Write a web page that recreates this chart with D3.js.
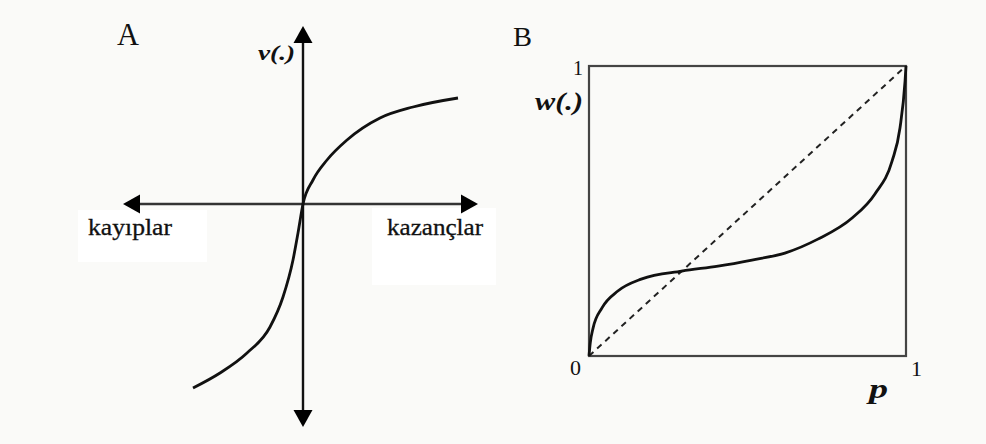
<!DOCTYPE html>
<html>
<head>
<meta charset="utf-8">
<script src="https://cdn.jsdelivr.net/npm/d3@7"></script>
<style>
  html, body { margin: 0; padding: 0; background: #fafaf8; }
  svg { display: block; }
  text { font-family: "Liberation Serif", "DejaVu Serif", serif; fill: #111; }
</style>
</head>
<body>
<svg id="chart" width="986" height="444"></svg>
<script>
// Panel A: value function (x = outcome, y = value), arbitrary units
const valueX = [-110, -83, -56, -33, -20, -10, -5, 0, 10, 24, 44, 77, 110, 155];
const valueY = [-184, -169, -149, -123, -93, -56, -29, 0, 24, 44, 64, 86, 97, 106];
const axisXExtent = [-180, 175];
const axisYExtent = [-223, 178];
const axisLabelsA = ["kayıplar", "kazançlar"];

// Panel B: probability weighting function
const probP = [0, 0.004, 0.013, 0.041, 0.091, 0.167, 0.293, 0.407, 0.514, 0.618, 0.722, 0.830, 0.902, 0.956, 0.981, 0.997, 1];
const probW = [0, 0.045, 0.097, 0.166, 0.224, 0.266, 0.293, 0.310, 0.331, 0.355, 0.403, 0.476, 0.559, 0.672, 0.786, 0.948, 1];
const diagonal = [0, 1];
const tickLabelsB = ["0", "1"];

const svg = d3.select('#chart');

// ---------- Panel A ----------
const xA = d3.scaleLinear().domain(axisXExtent).range([123, 478]);
const yA = d3.scaleLinear().domain(axisYExtent).range([427, 26]);

const panelA = svg.append('g').attr('class', 'panelA');

// white label boxes behind axis captions
panelA.append('rect').attr('x', 78).attr('y', 210).attr('width', 129).attr('height', 52).attr('fill', '#fff');
panelA.append('rect').attr('x', 372).attr('y', 208).attr('width', 124).attr('height', 77).attr('fill', '#fff');

const headLen = 17, headHalf = 9.5;

// horizontal axis
panelA.append('line')
  .attr('x1', xA(axisXExtent[0]) + headLen).attr('x2', xA(axisXExtent[1]) - headLen)
  .attr('y1', yA(0)).attr('y2', yA(0))
  .attr('stroke', '#333').attr('stroke-width', 2.4);
// vertical axis
panelA.append('line')
  .attr('x1', xA(0)).attr('x2', xA(0))
  .attr('y1', yA(axisYExtent[1]) + headLen).attr('y2', yA(axisYExtent[0]) - headLen)
  .attr('stroke', '#111').attr('stroke-width', 2.4);

// arrowheads (tip, direction)
const heads = [
  { x: xA(axisXExtent[0]), y: yA(0), dx: -1, dy: 0 },
  { x: xA(axisXExtent[1]), y: yA(0), dx: 1, dy: 0 },
  { x: xA(0), y: yA(axisYExtent[1]), dx: 0, dy: -1 },
  { x: xA(0), y: yA(axisYExtent[0]), dx: 0, dy: 1 }
];
panelA.selectAll('path.head')
  .data(heads)
  .join('path')
  .attr('class', 'head')
  .attr('fill', '#000')
  .attr('d', (h) => {
    const bx = h.x - h.dx * headLen, by = h.y - h.dy * headLen;
    const px = -h.dy * headHalf, py = h.dx * headHalf;
    return `M${h.x},${h.y}L${bx + px},${by + py}L${bx - px},${by - py}Z`;
  });

// value curve
const valueLine = d3.line()
  .x((d) => xA(d[0]))
  .y((d) => yA(d[1]))
  .curve(d3.curveMonotoneX);
panelA.append('path')
  .datum(d3.zip(valueX, valueY))
  .attr('d', valueLine)
  .attr('fill', 'none')
  .attr('stroke', '#111')
  .attr('stroke-width', 2.8);

// labels
panelA.append('text').attr('x', 117).attr('y', 45)
  .attr('font-size', 31).attr('textLength', 22).attr('lengthAdjust', 'spacingAndGlyphs').text('A');
panelA.append('text').attr('x', 258).attr('y', 60)
  .attr('font-size', 22).attr('font-weight', 'bold').attr('font-style', 'italic')
  .attr('textLength', 37).attr('lengthAdjust', 'spacingAndGlyphs').text('v(.)');
panelA.append('text').attr('x', 88).attr('y', 235)
  .attr('font-size', 23).attr('stroke', '#111').attr('stroke-width', 0.3)
  .attr('textLength', 84).attr('lengthAdjust', 'spacingAndGlyphs').text(axisLabelsA[0]);
panelA.append('text').attr('x', 387).attr('y', 235)
  .attr('font-size', 23).attr('stroke', '#111').attr('stroke-width', 0.3)
  .attr('textLength', 96).attr('lengthAdjust', 'spacingAndGlyphs').text(axisLabelsA[1]);

// ---------- Panel B ----------
const xB = d3.scaleLinear().domain([0, 1]).range([589, 906]);
const yB = d3.scaleLinear().domain([0, 1]).range([356, 66]);

const panelB = svg.append('g').attr('class', 'panelB');

panelB.append('rect')
  .attr('x', xB(0)).attr('y', yB(1))
  .attr('width', xB(1) - xB(0)).attr('height', yB(0) - yB(1))
  .attr('fill', 'none').attr('stroke', '#444').attr('stroke-width', 2.2);

panelB.append('line')
  .attr('x1', xB(diagonal[0])).attr('y1', yB(diagonal[0]))
  .attr('x2', xB(diagonal[1])).attr('y2', yB(diagonal[1]))
  .attr('stroke', '#222').attr('stroke-width', 2)
  .attr('stroke-dasharray', '6,5');

const weightLine = d3.line()
  .x((d) => xB(d[0]))
  .y((d) => yB(d[1]))
  .curve(d3.curveMonotoneX);
panelB.append('path')
  .datum(d3.zip(probP, probW))
  .attr('d', weightLine)
  .attr('fill', 'none')
  .attr('stroke', '#111')
  .attr('stroke-width', 2.8);

panelB.append('text').attr('x', 513).attr('y', 46)
  .attr('font-size', 28).attr('textLength', 19).attr('lengthAdjust', 'spacingAndGlyphs').text('B');
panelB.append('text').attr('x', 573).attr('y', 75)
  .attr('font-size', 20).text(tickLabelsB[1]);
panelB.append('text').attr('x', 535).attr('y', 110)
  .attr('font-size', 26).attr('font-weight', 'bold').attr('font-style', 'italic')
  .attr('textLength', 48).attr('lengthAdjust', 'spacingAndGlyphs').text('w(.)');
panelB.append('text').attr('x', 570).attr('y', 375)
  .attr('font-size', 22).text(tickLabelsB[0]);
panelB.append('text').attr('x', 911).attr('y', 376)
  .attr('font-size', 22).text(tickLabelsB[1]);
panelB.append('text').attr('x', 869).attr('y', 398)
  .attr('font-size', 28).attr('font-weight', 'bold').attr('font-style', 'italic')
  .attr('textLength', 19).attr('lengthAdjust', 'spacingAndGlyphs').text('p');
</script>
</body>
</html>
